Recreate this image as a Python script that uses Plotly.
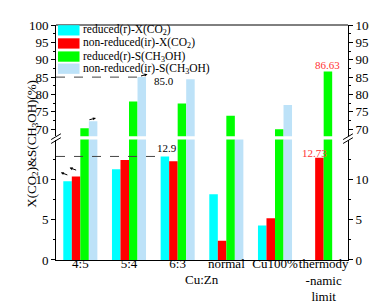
import plotly.graph_objects as go

categories = ["4:5", "5:4", "6:3", "normal", "Cu100%", "thermody<br>-namic<br>limit"]
reduced_x_co2 = [9.8, 11.3, 12.9, 8.2, 4.3, None]
nonreduced_x_co2 = [10.4, 12.45, 12.3, 2.4, 5.2, 12.73]
reduced_s_ch3oh = [70.3, 78.0, 77.4, 73.9, 70.0, 86.63]
nonreduced_s_ch3oh = [72.3, 85.0, 84.4, 64.0, 77.0, None]

series_names = ["reduced(r)-X(CO<sub>2</sub>)", "non-reduced(ir)-X(CO<sub>2</sub>)",
                "reduced(r)-S(CH<sub>3</sub>OH)", "non-reduced(ir)-S(CH<sub>3</sub>OH)"]
series_values = [reduced_x_co2, nonreduced_x_co2, reduced_s_ch3oh, nonreduced_s_ch3oh]
colors = ["#00FFFF", "#FF0000", "#00FF00", "#BDE2F8"]

lower_ticks = [0, 5, 10]
upper_ticks = [70, 75, 80, 85, 90, 95, 100]

FONT = "Times New Roman"
W, H = 377, 307
L, R, T, B = 48, 31, 10, 55
pw, ph = W - L - R, H - T - B

def px_x(p):
    return (p - L) / pw

def px_y(p):
    return (H - B - p) / ph

fig = go.Figure()
for name, vals, col in zip(series_names, series_values, colors):
    fig.add_trace(go.Bar(x=categories, y=vals, name=name, marker=dict(color=col, line=dict(width=0)),
                         xaxis="x", yaxis="y", showlegend=False))
for name, vals, col in zip(series_names, series_values, colors):
    fig.add_trace(go.Bar(x=categories, y=vals, name=name, marker=dict(color=col, line=dict(width=0)),
                         xaxis="x", yaxis="y2", showlegend=False))
# helper traces so the right-hand axes are drawn
fig.add_trace(go.Scatter(x=categories, y=nonreduced_x_co2, mode="none", xaxis="x", yaxis="y3",
                         showlegend=False, hoverinfo="skip"))
fig.add_trace(go.Scatter(x=categories, y=reduced_s_ch3oh, mode="none", xaxis="x", yaxis="y4",
                         showlegend=False, hoverinfo="skip"))

lower_dom = [0, px_y(128)]
upper_dom = [px_y(124.5), 1]

def yax(rng, ticks, minor_vals, **kw):
    d = dict(range=rng, tickvals=ticks, anchor="x",
             showline=True, linecolor="black", linewidth=1, ticks="outside", ticklen=4,
             tickcolor="black", showgrid=False, zeroline=False,
             tickfont=dict(family=FONT, size=13, color="black"),
             minor=dict(ticks="outside", ticklen=2, tickcolor="black", tickvals=minor_vals))
    d.update(kw)
    return d

lower_minor = [2.5, 7.5, 12.5]
upper_minor = [72.5, 77.5, 82.5, 87.5, 92.5, 97.5]

fig.update_layout(
    width=W, height=H,
    margin=dict(l=L, r=R, t=T, b=B),
    paper_bgcolor="white", plot_bgcolor="white",
    barmode="group", bargap=0.3, bargroupgap=0,
    font=dict(family=FONT, color="black"),
    showlegend=False,
    xaxis=dict(type="category", categoryorder="array", categoryarray=categories, domain=[0, 1],
               anchor="y", showline=True, linecolor="black", ticks="", showgrid=False,
               tickangle=0, automargin=False, ticklabelstandoff=-9,
               tickfont=dict(family=FONT, size=13, color="black"), range=[-0.5, 5.5]),
    yaxis=yax([0, 15], lower_ticks, lower_minor, domain=lower_dom),
    yaxis2=yax([68, 100], upper_ticks, upper_minor, domain=upper_dom),
    yaxis3=yax([0, 15], lower_ticks, lower_minor, overlaying="y", side="right"),
    yaxis4=yax([68, 100], upper_ticks, upper_minor, overlaying="y2", side="right"),
)

shapes = []
# top frame
shapes.append(dict(type="line", xref="paper", yref="paper", x0=0, x1=1, y0=1, y1=1,
                   line=dict(color="black", width=1)))
# axis break marks
for xc in (0, 1):
    for dy in (0, 4):
        shapes.append(dict(type="line", xref="paper", yref="paper",
                           x0=xc - 5 / pw, x1=xc + 5 / pw,
                           y0=px_y(128 + dy), y1=px_y(122 + dy),
                           line=dict(color="black", width=1)))
# dashed reference lines
shapes.append(dict(type="line", xref="x", yref="y2", x0=-0.5, x1=1.175, y0=85.0, y1=85.0,
                   line=dict(color="#444", width=1, dash="dash")))
shapes.append(dict(type="line", xref="x", yref="y", x0=-0.5, x1=1.65, y0=12.9, y1=12.9,
                   line=dict(color="#444", width=1, dash="dash")))

ann = []
# manual legend (compact rows like the reference)
row_y = [15.5, 29, 42.5, 55]
for name, col, ry in zip(series_names, colors, row_y):
    shapes.append(dict(type="rect", xref="paper", yref="paper",
                       x0=px_x(50), x1=px_x(72), y0=px_y(ry + 5.3), y1=px_y(ry - 5.3),
                       fillcolor=col, line=dict(width=0)))
    ann.append(dict(text=name, x=px_x(74), y=px_y(ry), xref="paper", yref="paper",
                    xanchor="left", yanchor="middle", showarrow=False,
                    font=dict(family=FONT, size=11.5, color="black")))
fig.update_layout(shapes=shapes)

ann.append(dict(text="85.0", x=1.71, y=84.0, xref="x", yref="y2", showarrow=False,
                font=dict(family=FONT, size=11, color="black")))
ann.append(dict(text="12.9", x=1.775, y=14.0, xref="x", yref="y", showarrow=False,
                font=dict(family=FONT, size=11, color="black")))
ann.append(dict(text="86.63", x=5.08, y=88.4, xref="x", yref="y2", showarrow=False,
                font=dict(family=FONT, size=11, color="#FF3333")))
ann.append(dict(text="12.73", x=4.81, y=13.3, xref="x", yref="y", showarrow=False,
                font=dict(family=FONT, size=11, color="#FF3333")))
# axis titles
ann.append(dict(text="Cu:Zn", x=0.5, y=px_y(282), xref="paper", yref="paper", showarrow=False,
                font=dict(family=FONT, size=13, color="black")))
ann.append(dict(text="X(CO<sub>2</sub>)&S(CH<sub>3</sub>OH)(%)", x=px_x(13), y=px_y(132),
                xref="paper", yref="paper", showarrow=False, textangle=-90,
                font=dict(family=FONT, size=13, color="black")))
# small axis-indicator arrows
arrow_style = dict(showarrow=True, arrowhead=2, arrowsize=0.6, arrowwidth=1, arrowcolor="black",
                   text="")
ann.append(dict(x=-0.4, y=10.9, xref="x", yref="y", ax=8, ay=3, **arrow_style))
ann.append(dict(x=-0.22, y=11.5, xref="x", yref="y", ax=8, ay=3, **arrow_style))
ann.append(dict(x=0.32, y=73.2, xref="x", yref="y2", ax=-8, ay=2, **arrow_style))
ann.append(dict(x=1.38, y=85.8, xref="x", yref="y2", ax=-8, ay=2, **arrow_style))
fig.update_layout(annotations=ann)

fig.write_html("out.html")
